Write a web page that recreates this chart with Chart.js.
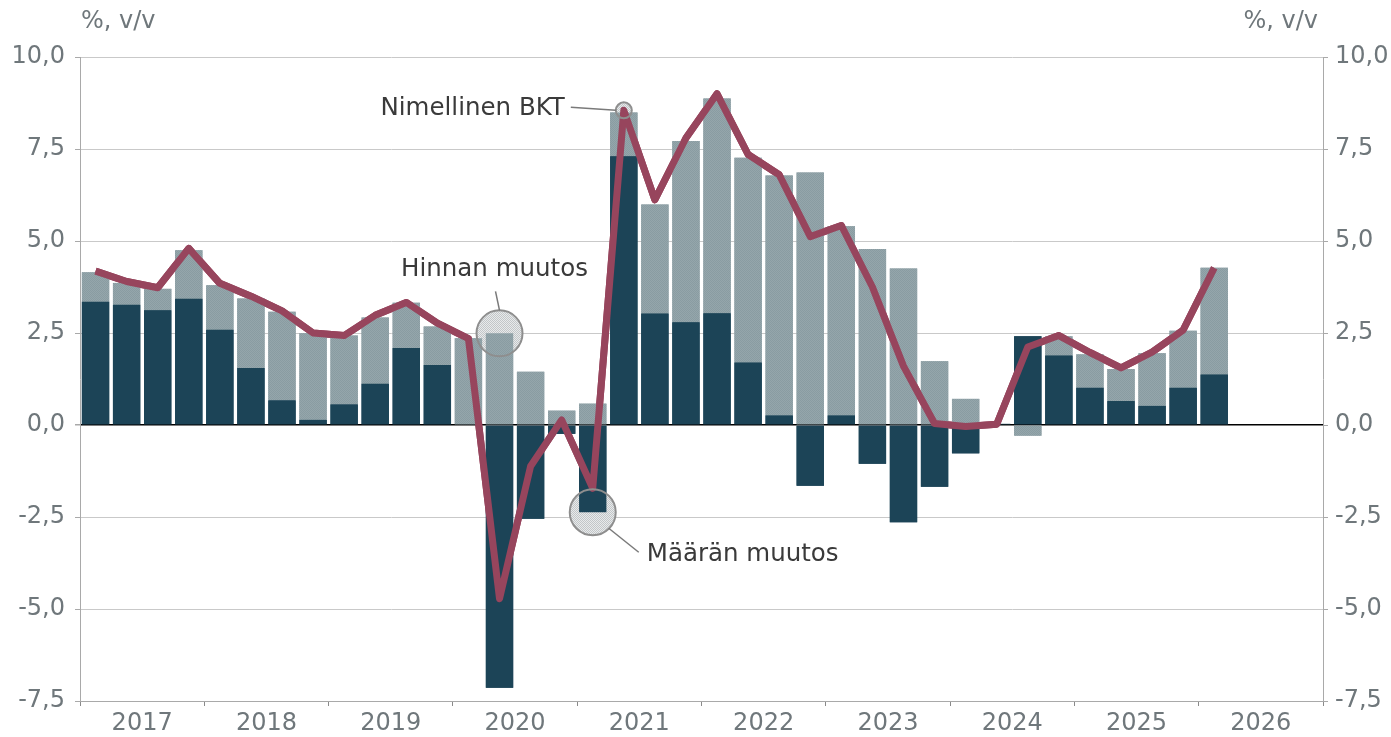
<!DOCTYPE html>
<html><head><meta charset="utf-8">
<script src="https://cdn.jsdelivr.net/npm/chart.js@4.4.1/dist/chart.umd.min.js"></script>
<style>html,body{margin:0;padding:0;background:#fff;overflow:hidden}</style>
</head><body>
<canvas id="c" width="1391" height="737"></canvas>
<script>
// ---- DATA ----
const quarters = [
 '2017Q1','2017Q2','2017Q3','2017Q4','2018Q1','2018Q2','2018Q3','2018Q4',
 '2019Q1','2019Q2','2019Q3','2019Q4','2020Q1','2020Q2','2020Q3','2020Q4',
 '2021Q1','2021Q2','2021Q3','2021Q4','2022Q1','2022Q2','2022Q3','2022Q4',
 '2023Q1','2023Q2','2023Q3','2023Q4','2024Q1','2024Q2','2024Q3','2024Q4',
 '2025Q1','2025Q2','2025Q3','2025Q4','2026Q1','2026Q2','2026Q3','2026Q4'];
const yearLabels = ['2017','2018','2019','2020','2021','2022','2023','2024','2025','2026'];
// Määrän muutos (volume change)
const volumeChange = [3.35,3.27,3.12,3.43, 2.59,1.55,0.67,0.14, 0.56,1.12,2.09,1.63,
  0.00,-7.14,-2.55,-0.24, -2.37,7.30,3.03,2.79, 3.04,1.70,0.26,-1.65,
  0.26,-1.05,-2.64,-1.68, -0.77,0.03,2.41,1.89, 1.01,0.65,0.52,1.01, 1.37];
// Hinnan muutos (price change)
const priceChange = [0.80,0.59,0.58,1.32, 1.21,1.89,2.41,2.35, 1.87,1.80,1.23,1.05,
  2.36,2.49,1.45,0.39, 0.58,1.19,2.96,4.93, 5.83,5.56,6.52,6.86,
  5.14,4.78,4.25,1.73, 0.71,0.00,-0.29,0.52, 0.91,0.87,1.43,1.55, 2.90];
// Nimellinen BKT (nominal GDP)
const nominalGDP = [4.18,3.90,3.73,4.80, 3.85,3.50,3.10,2.50, 2.43,2.98,3.33,2.77,
  2.35,-4.72,-1.12,0.14, -1.72,8.55,6.12,7.80, 9.00,7.35,6.80,5.12,
  5.42,3.75,1.60,0.04, -0.04,0.02,2.12,2.43, 1.97,1.55,1.98,2.58, 4.27];
const yMin = -7.5, yMax = 10, yStep = 2.5;

// ---- STYLE HELPERS ----
function makePattern(colors){
  const c = document.createElement('canvas'); c.width = 2; c.height = 2;
  const g = c.getContext('2d');
  g.fillStyle = colors[0]; g.fillRect(0,0,2,2);
  g.fillStyle = colors[1]; g.fillRect(0,0,1,1); g.fillRect(1,1,1,1);
  return g.createPattern(c,'repeat');
}
const ctx0 = document.getElementById('c').getContext('2d');
const greyPattern = makePattern(['#95a6ab','#899ca2']);
const calloutPattern = makePattern(['#e8eaeb','#c2c6c8']);
const FONT = 'DejaVu Sans';
const tickColor = '#6f777b';

const toPts = arr => arr.map((v,i)=>({x:i+0.5,y:v}));

const callouts = [
  {idx:17, val:()=>nominalGDP[17], r:8, text:'Nimellinen BKT', align:'right', tdx:-59, tdy:-2,
   l:[-53,-3,-8,0]},
  {idx:13, val:()=>priceChange[13], r:23, text:'Hinnan muutos', align:'center', tdx:-5, tdy:-64,
   l:[-4,-42,0,-23]},
  {idx:16, val:()=>volumeChange[16], r:23, text:'Määrän muutos', align:'left', tdx:54, tdy:42,
   l:[16,16,46,40]}
];

const annot = {
  id:'annot',
  afterDatasetsDraw(chart){
    const g = chart.ctx, xs = chart.scales.x, ys = chart.scales.y;
    g.save();
    // circle fills (behind the marks)
    callouts.forEach(c=>{
      const cx = xs.getPixelForValue(c.idx+0.5), cy = ys.getPixelForValue(c.val());
      g.beginPath(); g.arc(cx,cy,c.r,0,Math.PI*2); g.fillStyle = calloutPattern; g.fill();
    });
    g.restore();
    // redraw the marks on top of the circle fills
    const metas = chart.getSortedVisibleDatasetMetas();
    for (let i = metas.length - 1; i >= 0; --i) metas[i].controller.draw();
    g.save();
    callouts.forEach(c=>{
      const cx = xs.getPixelForValue(c.idx+0.5), cy = ys.getPixelForValue(c.val());
      g.beginPath(); g.arc(cx,cy,c.r,0,Math.PI*2);
      g.strokeStyle = '#8e8e8e'; g.lineWidth = 2; g.stroke();
      g.beginPath(); g.moveTo(cx+c.l[0],cy+c.l[1]); g.lineTo(cx+c.l[2],cy+c.l[3]);
      g.strokeStyle = '#7a7a7a'; g.lineWidth = 1.5; g.stroke();
      g.font = '24.5px "'+FONT+'"'; g.fillStyle = '#3a3a3a';
      g.textAlign = c.align; g.textBaseline = 'middle';
      g.fillText(c.text, cx+c.tdx, cy+c.tdy);
    });
    g.font = '24px "'+FONT+'"'; g.fillStyle = tickColor; g.textBaseline = 'middle';
    g.textAlign = 'left'; g.fillText('%, v/v', 81, 22);
    g.textAlign = 'right'; g.fillText('%, v/v', 1318, 22);
    g.restore();
  }
};

const fmt = v => v.toFixed(1).replace('.', ',');

new Chart(ctx0, {
  data: {
    datasets: [
      {type:'line', label:'Nimellinen BKT', data: toPts(nominalGDP), borderColor:'#97455d',
       borderWidth:7, pointRadius:0, tension:0, borderJoinStyle:'round', stack:'line', order:0},
      {type:'bar', label:'Määrän muutos', data: toPts(volumeChange), backgroundColor:'#1c4457',
       stack:'bars', order:1, categoryPercentage:1, barPercentage:0.88},
      {type:'bar', label:'Hinnan muutos', data: toPts(priceChange), backgroundColor: greyPattern,
       stack:'bars', order:1, categoryPercentage:1, barPercentage:0.88}
    ]
  },
  options: {
    responsive:false, animation:false,
    layout:{padding:{top:57, left:0, right:0, bottom:0}},
    plugins:{legend:{display:false}, tooltip:{enabled:false}},
    scales:{
      x:{type:'linear', min:0, max:quarters.length, stacked:true, offset:false,
        afterFit(s){ s.height = 36; },
        border:{color:'#a9a9a9', width:1},
        grid:{offset:false, drawOnChartArea:false, tickLength:5,
          color:c=> (c.tick && c.tick.value % 4 === 0) ? '#8a8a8a' : 'rgba(0,0,0,0)'},
        ticks:{stepSize:1, autoSkip:false, maxRotation:0, minRotation:0, padding:3,
          color:tickColor, font:{family:FONT, size:24},
          callback:v => (v % 4 === 2) ? yearLabels[(v-2)/4] : ''}
      },
      y:{position:'left', min:yMin, max:yMax, stacked:true,
        afterFit(s){ s.width = 80; },
        border:{color:'#a9a9a9', width:1},
        grid:{color:c=> (c.tick && c.tick.value === 0) ? '#000000' : '#c9c9c9',
          lineWidth:c=> (c.tick && c.tick.value === 0) ? 1.5 : 1,
          tickColor:'#a9a9a9', tickLength:5},
        ticks:{stepSize:yStep, padding:10, color:tickColor, font:{family:FONT, size:24}, callback:fmt}
      },
      y2:{position:'right', min:yMin, max:yMax,
        afterFit(s){ s.width = 68; },
        border:{color:'#a9a9a9', width:1},
        grid:{drawOnChartArea:false, tickColor:'#a9a9a9', tickLength:5},
        ticks:{stepSize:yStep, padding:7, color:tickColor, font:{family:FONT, size:24}, callback:fmt}
      }
    }
  },
  plugins:[annot]
});
</script>
</body></html>
